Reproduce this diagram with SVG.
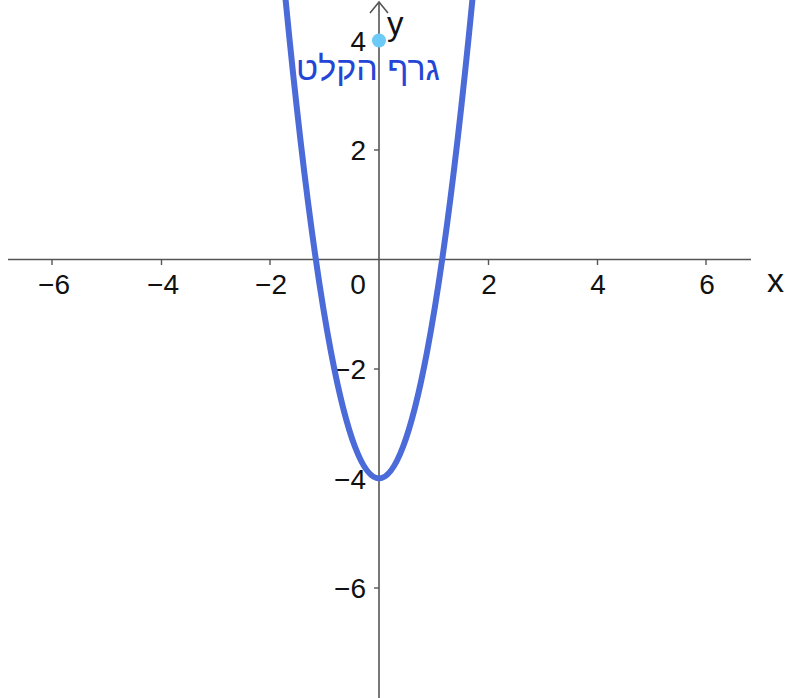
<svg xmlns="http://www.w3.org/2000/svg" width="785" height="698" viewBox="0 0 785 698">
<style>
.ax{stroke:#555;stroke-width:1.6;fill:none}
.tk{stroke:#555;stroke-width:1.4}
.lb{font-family:"Liberation Sans",Arial,sans-serif;font-size:28px;fill:#111}
.xl{text-anchor:middle}
.yl{text-anchor:end}
</style>
<rect width="785" height="698" fill="#fff"/>
<g id="axes">
<line class="ax" x1="8" y1="259.5" x2="751" y2="259.5"/>
<line class="ax" x1="379" y1="2" x2="379" y2="698"/>
<polyline class="ax" points="370,13 379,2 388,13"/>
<g class="tk">
<line x1="52" y1="259.5" x2="52" y2="265"/>
<line x1="161.5" y1="259.5" x2="161.5" y2="265"/>
<line x1="270" y1="259.5" x2="270" y2="265"/>
<line x1="488.5" y1="259.5" x2="488.5" y2="265"/>
<line x1="597.5" y1="259.5" x2="597.5" y2="265"/>
<line x1="706" y1="259.5" x2="706" y2="265"/>
<line x1="374" y1="40.5" x2="379" y2="40.5"/>
<line x1="374" y1="150" x2="379" y2="150"/>
<line x1="374" y1="369" x2="379" y2="369"/>
<line x1="374" y1="478.5" x2="379" y2="478.5"/>
<line x1="374" y1="588" x2="379" y2="588"/>
</g>
</g>
<g id="labels">
<text class="lb xl" x="54" y="294">−6</text>
<text class="lb xl" x="163" y="294">−4</text>
<text class="lb xl" x="271" y="294">−2</text>
<text class="lb xl" x="358" y="294">0</text>
<text class="lb xl" x="489" y="294">2</text>
<text class="lb xl" x="598" y="294">4</text>
<text class="lb xl" x="707" y="294">6</text>
<text class="lb yl" x="366" y="51">4</text>
<text class="lb yl" x="366" y="160">2</text>
<text class="lb yl" x="366" y="379">−2</text>
<text class="lb yl" x="366" y="489">−4</text>
<text class="lb yl" x="366" y="598">−6</text>
<text class="lb" x="767" y="292" style="font-size:34px">x</text>
<text class="lb" x="387" y="35" style="font-size:33px">y</text>
</g>
<g id="curve">
<path d="M283.3,-24 Q379,980.9 474.7,-24" fill="none" stroke="#4a6bd8" stroke-width="6"/>
</g>
<g id="point">
<circle cx="379" cy="40.5" r="7" fill="#6ccaf6"/>
<text x="368" y="80" text-anchor="middle" direction="rtl" style="font-family:'Liberation Sans','DejaVu Sans',sans-serif;font-size:34px;fill:#2446d6">גרף הקלט</text>
</g>
</svg>
